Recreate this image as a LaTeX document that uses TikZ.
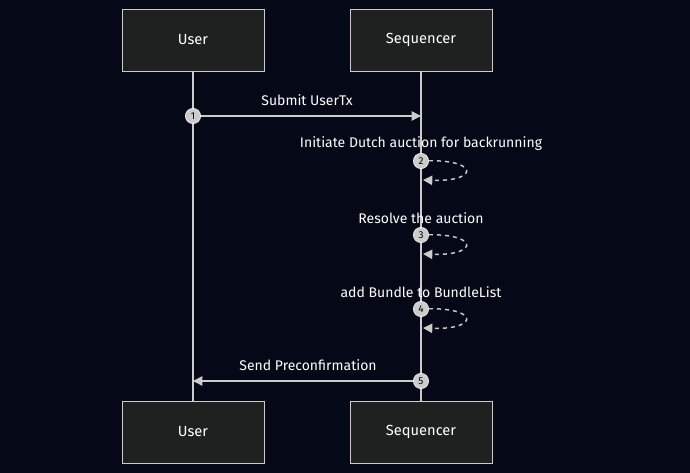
\documentclass[tikz,border=0pt]{standalone}
\usepackage{fontspec}
\setmainfont{Fira Sans}
\usetikzlibrary{positioning,arrows.meta}
\definecolor{bgc}{HTML}{050816}
\definecolor{boxc}{HTML}{1F2020}
\definecolor{linec}{HTML}{CCCCCC}
\tikzset{
  actor/.style={draw=linec,fill=boxc,text=white,minimum width=106.5pt,minimum height=46.5pt,font=\fontsize{11}{13}\selectfont},
  msg/.style={draw=linec,line width=1.1pt,-{Triangle[length=7pt,width=7pt]}},
  loopmsg/.style={msg,dashed},
  num/.style={circle,fill=linec,draw=white,text=black,inner sep=0pt,minimum size=11.5pt,font=\fontsize{7.5}{8}\selectfont},
  lbl/.style={text=white,font=\fontsize{10.5}{12}\selectfont}
}
\begin{document}
\begin{tikzpicture}[x=0.75pt,y=-0.75pt]
\fill[bgc] (0,0) rectangle (690,473);
\useasboundingbox (0,0) rectangle (690,473);
% actors
\node[actor] (userT) at (193,40) {User};
\node[actor] (seqT) at (421,40) {Sequencer};
\node[actor] (userB) at (193,432) {User};
\node[actor] (seqB) at (421,432) {Sequencer};
\draw[linec,line width=1pt] (userT) -- (userB);
\draw[linec,line width=1pt] (seqT) -- (seqB);
% message 1
\coordinate (m1s) at (193,116);
\coordinate (m1e) at (421,116);
\draw[msg] (m1s) -- (m1e);
\node[lbl] (l1) at (307,100) {Submit UserTx};
\node[num] (n1) at (m1s) {1};
% self messages
\foreach \i/\y/\t in {2/161/Initiate Dutch auction for backrunning,3/235/Resolve the auction,4/309/add Bundle to BundleList}{
  \coordinate (s\i) at (421,\y);
  \coordinate (e\i) at (423,\y+19);
  \draw[loopmsg] (s\i) .. controls (480,\y-3) and (480,\y+21) .. (e\i);
  \node[lbl] (l\i) at (421,\y-17) {\t};
  \node[num] (n\i) at (s\i) {\i};
}
% message 5
\coordinate (m5s) at (421,381);
\coordinate (m5e) at (193,381);
\draw[msg] (m5s) -- (m5e);
\node[lbl] (l5) at (308,365) {Send Preconfirmation};
\node[num] (n5) at (m5s) {5};
\end{tikzpicture}
\end{document}
